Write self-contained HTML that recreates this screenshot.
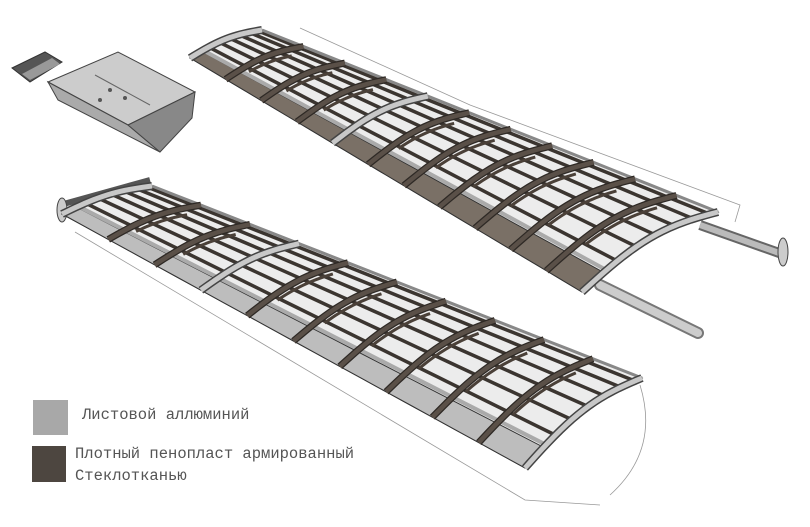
<!DOCTYPE html>
<html><head><meta charset="utf-8"><style>
html,body{margin:0;padding:0;background:#fff;width:810px;height:527px;overflow:hidden}
.lg{position:absolute;font-family:"Liberation Mono","DejaVu Sans Mono",monospace;font-size:15.5px;color:#555;line-height:22px}
</style></head><body>
<svg id="s" width="810" height="527" style="position:absolute;left:0;top:0">
<polyline points="300,28 470,105 740,205 735,222" fill="none" stroke="#999" stroke-width="0.8"/>
<polyline points="75,232 525,500 600,505" fill="none" stroke="#999" stroke-width="0.8"/>
<path d="M640,385 Q660,450 610,495" fill="none" stroke="#999" stroke-width="0.8"/>
<polygon points="12,68 45,52 62,62 30,82" fill="#555" stroke="#333"/>
<polygon points="22,74 52,58 60,64 30,80" fill="#999"/>
<polygon points="48,82 118,52 195,92 128,125" fill="#ccc" stroke="#444"/>
<polygon points="48,82 128,125 160,152 58,100" fill="#aaa" stroke="#444"/>
<polygon points="128,125 195,92 192,118 160,152" fill="#888" stroke="#444"/>
<line x1="95" y1="75" x2="150" y2="105" stroke="#666"/>
<circle cx="110" cy="90" r="2" fill="#555"/><circle cx="125" cy="98" r="2" fill="#555"/><circle cx="100" cy="100" r="2" fill="#555"/>
<line x1="600" y1="285" x2="698" y2="333" stroke="#777" stroke-width="12" stroke-linecap="round"/>
<line x1="600" y1="285" x2="698" y2="333" stroke="#ccc" stroke-width="8" stroke-linecap="round"/>
<line x1="700" y1="225" x2="782" y2="254" stroke="#666" stroke-width="10"/>
<line x1="700" y1="225" x2="782" y2="254" stroke="#bbb" stroke-width="6"/>
<ellipse cx="783" cy="252" rx="5" ry="14" fill="#ccc" stroke="#444"/>
<line x1="60" y1="205" x2="150" y2="180" stroke="#555" stroke-width="6"/>
<ellipse cx="62" cy="210" rx="5" ry="12" fill="#ccc" stroke="#444"/>
<g id="w"></g>
<rect x="33" y="400" width="35" height="35" fill="#a8a8a8"/>
<rect x="32" y="446" width="34" height="36" fill="#4d4640"/>
</svg>
<div class="lg" style="left:82px;top:404px">Листовой аллюминий</div>
<div class="lg" style="left:75px;top:443px">Плотный пенопласт армированный<br>Стеклотканью</div>
<script>
var g=document.getElementById('w'),NS='http://www.w3.org/2000/svg';
function el(t,a){var e=document.createElementNS(NS,t);for(var k in a)e.setAttribute(k,a[k]);g.appendChild(e);return e;}
function wing(F0,B0,F1,B1,h0,h1,n,edge,silverRibs){
 function P(t,s){var fx=F0[0]+(F1[0]-F0[0])*t,fy=F0[1]+(F1[1]-F0[1])*t,bx=B0[0]+(B1[0]-B0[0])*t,by=B0[1]+(B1[1]-B0[1])*t;var h=h0+(h1-h0)*t;return [fx+(bx-fx)*s,fy+(by-fy)*s-h*Math.sin(Math.PI*s)];}
 function curve(t,a,b){var p=[];for(var i=0;i<=20;i++){var q=P(t,a+(b-a)*i/20);p.push(q.join(','));}return p.join(' ');}
 function line(s){var p=[];for(var i=0;i<=20;i++){p.push(P(i/20,s).join(','));}return p.join(' ');}
 var pts=[];for(var i=0;i<=20;i++)pts.push(P(i/20,0).join(','));var c=curve(1,0,1).split(' ');pts=pts.concat(c);for(var i=20;i>=0;i--)pts.push(P(i/20,1).join(','));var c0=curve(0,0,1).split(' ').reverse();pts=pts.concat(c0);
 el('polygon',{points:pts.join(' '),fill:'#ececec',stroke:'#333','stroke-width':1});
 [0.26,0.4,0.54,0.68,0.82,0.94].forEach(function(s){el('polyline',{points:line(s),fill:'none',stroke:'#3b3530','stroke-width':3.5});});
 var e=[];for(var i=0;i<=20;i++)e.push(P(i/20,0).join(','));for(var i=20;i>=0;i--)e.push(P(i/20,0.16).join(','));
 el('polygon',{points:e.join(' '),fill:edge,stroke:'#333','stroke-width':1});
 el('polyline',{points:line(0.18),fill:'none',stroke:'#aaa','stroke-width':4});
 el('polyline',{points:line(1),fill:'none',stroke:'#888','stroke-width':3});
 for(var k=0;k<=n;k++){var t=k/n;var sil=(k==0||k==n||silverRibs.indexOf(k)>=0);
  el('polyline',{points:curve(t,0,1),fill:'none',stroke:sil?'#444':'#2e2925','stroke-width':sil?8:7});
  el('polyline',{points:curve(t,0,1),fill:'none',stroke:sil?'#c8c8c8':'#5a5048','stroke-width':sil?5:4.5});
  if(!sil){el('polyline',{points:curve(t,0.3,0.85).split(' ').map(function(q){var a=q.split(',');return a[0]+','+(+a[1]+7);}).join(' '),fill:'none',stroke:'#4a4038','stroke-width':3});}
 }
}
wing([190,58],[262,30],[582,292],[718,212],5,14,11,'#7a7066',[4]);
wing([62,214],[152,186],[525,468],[642,378],5,13,10,'#bdbdbd',[3]);
</script>
</body></html>
